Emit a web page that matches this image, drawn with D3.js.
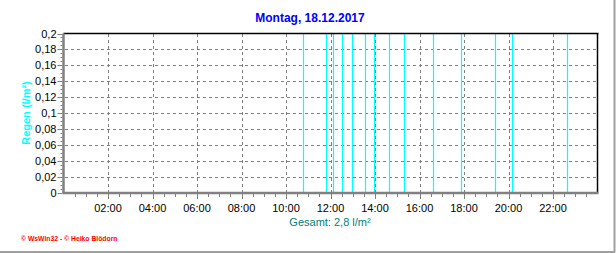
<!DOCTYPE html>
<html lang="de">
<head>
<meta charset="UTF-8">
<title>Regen 18.12.2017</title>
<script src="https://d3js.org/d3.v7.min.js"></script>
<style>
  body { margin: 0; background: #fff; }
  svg { display: block; font-family: "Liberation Sans", Arial, sans-serif; }
  .grid line { stroke: #808080; stroke-dasharray: 3,3; shape-rendering: crispEdges; }
  .tick-label { font-size: 11px; fill: #000; }
</style>
</head>
<body>
<svg id="chart" width="616" height="253"></svg>
<script>
// rain events (hour of day) and amount in l/m²
const eventHours = [10.76, 11.79, 12.11, 12.51, 12.96, 13.56, 13.96, 14.62, 15.29, 16.59, 17.85, 19.39, 20.14, 22.61];
const eventValues = [0.2, 0.2, 0.2, 0.2, 0.2, 0.2, 0.2, 0.2, 0.2, 0.2, 0.2, 0.2, 0.2, 0.2];
const xTickHours = [2, 4, 6, 8, 10, 12, 14, 16, 18, 20, 22];
const yTicks = [0, 0.02, 0.04, 0.06, 0.08, 0.1, 0.12, 0.14, 0.16, 0.18, 0.2];

const svg = d3.select("#chart");
const plotLeft = 63.5, plotRight = 597.5, plotTop = 33.5, plotBottom = 193;

const x = d3.scaleLinear().domain([0, 24]).range([plotLeft, plotRight]);
const y = d3.scaleLinear().domain([0, 0.2]).range([plotBottom, plotTop]);

const fmtY = v => d3.format(".2~f")(v).replace(".", ",");
const fmtX = h => String(h).padStart(2, "0") + ":00";

// outer frame shadow (right + bottom)
svg.append("line").attr("x1", 614.5).attr("x2", 614.5).attr("y1", 0).attr("y2", 252.5)
  .attr("stroke", "#a0a0a0").attr("stroke-width", 2);
svg.append("line").attr("x1", 0).attr("x2", 615).attr("y1", 252).attr("y2", 252)
  .attr("stroke", "#a0a0a0").attr("stroke-width", 2);

// title
svg.append("text").attr("x", 310).attr("y", 22).attr("text-anchor", "middle")
  .attr("font-size", 12).attr("font-weight", "bold").attr("fill", "#0000ff")
  .text("Montag, 18.12.2017");

// grid
const grid = svg.append("g").attr("class", "grid");
grid.selectAll(".h").data(yTicks.slice(1, -1)).join("line")
  .attr("x1", plotLeft + 1).attr("x2", plotRight)
  .attr("y1", d => Math.round(y(d)) + 0.5).attr("y2", d => Math.round(y(d)) + 0.5);
grid.selectAll(".v").data(xTickHours).join("line")
  .attr("y1", plotTop).attr("y2", plotBottom)
  .attr("x1", d => Math.round(x(d)) + 0.5).attr("x2", d => Math.round(x(d)) + 0.5);

// rain bars
svg.append("g").selectAll("line").data(eventHours).join("line")
  .attr("x1", d => Math.round(x(d)) + 0.5).attr("x2", d => Math.round(x(d)) + 0.5)
  .attr("y1", plotBottom).attr("y2", (d, i) => y(eventValues[i]))
  .attr("stroke", "#00ffff").attr("stroke-width", 1.2);

// frame: top/right black, left/bottom gray
svg.append("line").attr("x1", plotLeft).attr("x2", plotRight + 1).attr("y1", plotTop).attr("y2", plotTop)
  .attr("stroke", "#000").attr("stroke-width", 1.5);
svg.append("line").attr("x1", plotRight).attr("x2", plotRight).attr("y1", plotTop).attr("y2", plotBottom)
  .attr("stroke", "#000").attr("stroke-width", 1.5);
svg.append("line").attr("x1", plotLeft - 1).attr("x2", plotRight + 1).attr("y1", plotBottom).attr("y2", plotBottom)
  .attr("stroke", "#808080").attr("stroke-width", 2.5);
svg.append("line").attr("x1", plotLeft).attr("x2", plotLeft).attr("y1", plotTop).attr("y2", plotBottom)
  .attr("stroke", "#808080").attr("stroke-width", 2.5);

// y axis ticks (major + minor)
const yMinor = d3.range(0, 0.2001, 0.005);
svg.append("g").selectAll("line").data(yMinor).join("line")
  .attr("x1", (d, i) => i % 4 === 0 ? plotLeft - 6 : plotLeft - 3).attr("x2", plotLeft - 1)
  .attr("y1", d => Math.round(y(d)) + 0.5).attr("y2", d => Math.round(y(d)) + 0.5)
  .attr("stroke", "#808080").attr("stroke-width", 1);
svg.append("g").selectAll("text").data(yTicks).join("text")
  .attr("class", "tick-label")
  .attr("x", plotLeft - 7).attr("y", d => y(d) + 4)
  .attr("text-anchor", "end").text(fmtY);

// x axis ticks (major + minor)
const xMinor = d3.range(0.5, 24, 0.5);
svg.append("g").selectAll("line").data(xMinor).join("line")
  .attr("x1", d => Math.round(x(d)) + 0.5).attr("x2", d => Math.round(x(d)) + 0.5)
  .attr("y1", plotBottom + 1).attr("y2", d => d % 2 === 0 ? plotBottom + 6 : plotBottom + 4)
  .attr("stroke", "#808080").attr("stroke-width", 1);
svg.append("g").selectAll("text").data(xTickHours).join("text")
  .attr("class", "tick-label")
  .attr("x", d => x(d)).attr("y", 212)
  .attr("text-anchor", "middle").text(fmtX);

// y axis label
svg.append("text")
  .attr("transform", "translate(30,113) rotate(-90)")
  .attr("text-anchor", "middle").attr("font-size", 11).attr("font-weight", "bold")
  .attr("fill", "#00ffff").text("Regen  (l/m²)");

// total
const total = d3.sum(eventValues);
svg.append("text").attr("x", 330).attr("y", 226).attr("text-anchor", "middle")
  .attr("font-size", 11).attr("fill", "#008080")
  .text("Gesamt: " + d3.format(".1f")(total).replace(".", ",") + " l/m²");

// footer
svg.append("text").attr("x", 21).attr("y", 241)
  .attr("font-size", 6.8).attr("font-weight", "bold").attr("fill", "#ff0000")
  .text("© WsWin32  -  © Heiko Blödorn");
</script>
</body>
</html>
